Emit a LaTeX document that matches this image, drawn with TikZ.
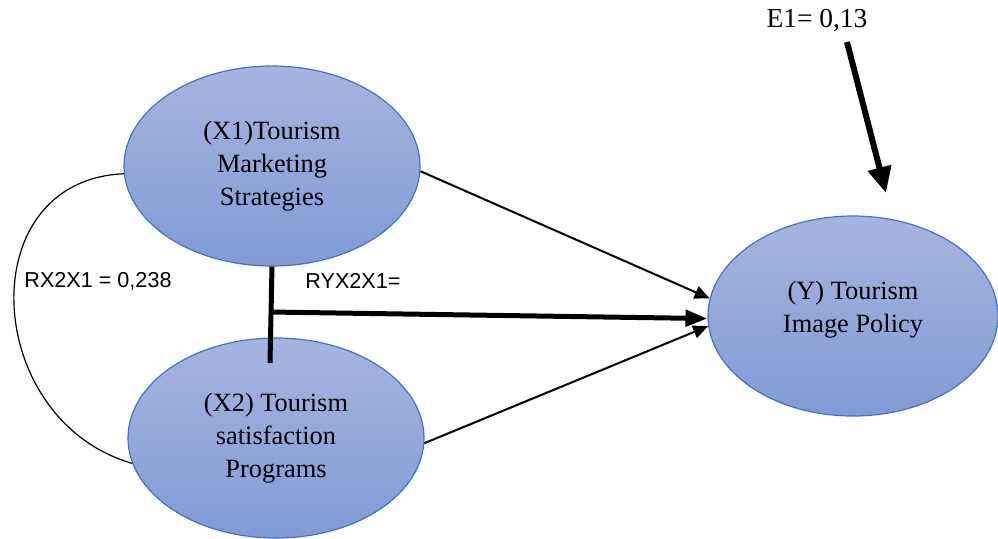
\documentclass[tikz,border=0pt]{standalone}
\usepackage{fontspec}
\setmainfont{Liberation Serif}
\newfontfamily\arialfont{Liberation Sans}
\usetikzlibrary{shapes.geometric,arrows.meta}
\definecolor{vartop}{RGB}{166,181,223}
\definecolor{varbot}{RGB}{129,154,213}
\definecolor{varline}{RGB}{68,114,196}

\begin{document}
\begin{tikzpicture}[x=0.5pt,y=-0.5pt]
	\useasboundingbox (0,0) rectangle (998,538);
	\tikzstyle{Var}=[ellipse,draw=varline,line width=0.6pt,top color=vartop,bottom color=varbot,minimum width=148pt,minimum height=100pt,align=center,font=\fontsize{13.2}{16.5}\selectfont]
	\tikzstyle{Coef}=[font=\arialfont\fontsize{10.8}{13}\selectfont]
	\tikzstyle{Path}=[line width=1pt,-{Triangle[length=7.5pt,width=6.5pt]}]
	\tikzstyle{Thick}=[line width=2.5pt]
	\node[Var] (x1) at (272,166) {(X1)Tourism\\Marketing\\Strategies};
	\node[Var] (x2) at (276,438) {(X2) Tourism\\satisfaction\\Programs};
	\node[Var,minimum width=145pt] (y) at (853,316) {(Y) Tourism\\Image Policy\\[-7pt]\mbox{}};
	\node[font=\fontsize{13.7}{16}\selectfont] (e1) at (817,20) {E1= 0,13};
	\node[Coef] (r1) at (98,281) {RX2X1 = 0,238};
	\node[Coef] (r2) at (353,281) {RYX2X1=};
	\coordinate (jn) at (270,312);
	\coordinate (jb) at (270,363);
	\coordinate (es) at (847,42);
	\coordinate (ee) at (886,193);
	\draw[Path] (x1.-2) -- (y.173);
	\draw[Path] (x2.-2) -- (y.184);
	\draw[Thick] (x1.south) -- (jb);
	\draw[Thick,-{Triangle[length=11pt,width=8pt]}] (jn) -- (y.181);
	\draw[line width=3pt,-{Triangle[length=13pt,width=11.5pt]}] (es) -- (ee);
	\draw[line width=0.6pt] (x1.183) .. controls (-30,180) and (-18,420) .. (x2.190);
\end{tikzpicture}
\end{document}
